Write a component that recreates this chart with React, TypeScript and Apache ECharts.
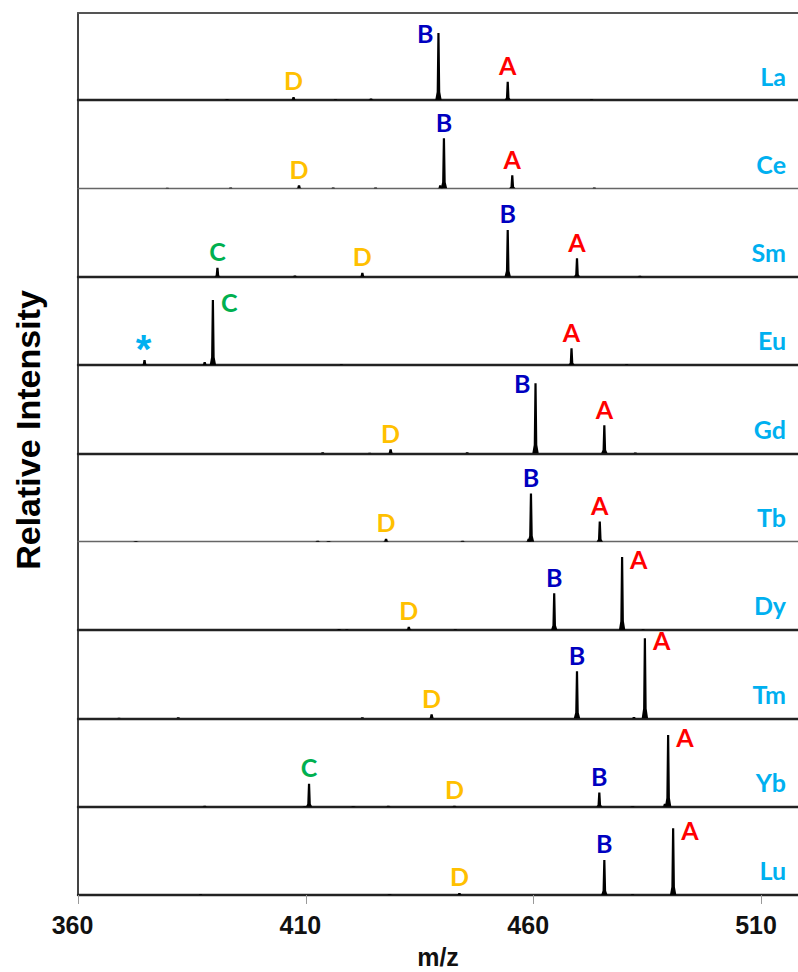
import React, { useEffect, useRef } from "react";
import * as echarts from "echarts";

// ---- data -------------------------------------------------------------
// Each peak: [m/z, relative intensity (% of panel height), label]
type Peak = [number, number, string];

const ELEMENTS = ["La", "Ce", "Sm", "Eu", "Gd", "Tb", "Dy", "Tm", "Yb", "Lu"];

const La: Peak[] = [[392.7, 1.2, ""], [407.3, 3.4, "D"], [416.5, 0.8, ""], [424.3, 1.6, ""], [439.1, 75.9, "B"], [454.3, 20.7, "A"], [472.7, 0.9, ""]];
const Ce: Peak[] = [[379.6, 0.6, ""], [393.5, 0.9, ""], [408.5, 3.4, "D"], [416.0, 0.9, ""], [425.3, 0.9, ""], [439.5, 3.5, ""], [440.3, 56.6, "B"], [455.3, 14.7, "A"], [473.3, 0.8, ""]];
const Sm: Peak[] = [[390.6, 10.2, "C"], [407.6, 1.3, ""], [422.4, 4.5, "D"], [454.3, 52.9, "B"], [469.5, 20.8, "A"], [483.3, 0.9, ""]];
const Eu: Peak[] = [[374.6, 5.7, "*"], [387.8, 3.4, ""], [389.6, 73.6, "C"], [417.8, 0.8, ""], [468.3, 18.9, "A"], [480.4, 0.8, ""]];
const Gd: Peak[] = [[413.7, 1.3, ""], [424.0, 0.7, ""], [428.6, 4.5, "D"], [445.4, 1.1, ""], [460.4, 79.3, "B"], [475.5, 31.7, "A"], [482.3, 0.9, ""]];
const Tb: Peak[] = [[372.7, 0.7, ""], [412.6, 1.1, ""], [415.0, 0.6, ""], [427.6, 3.4, "D"], [444.4, 0.9, ""], [458.9, 3.4, ""], [459.4, 54.4, "B"], [474.5, 22.7, "A"]];
const Dy: Peak[] = [[417.3, 1.1, ""], [419.0, 0.7, ""], [432.6, 3.7, "D"], [442.8, 0.9, ""], [464.5, 41.6, "B"], [479.4, 82.7, "A"], [484.0, 0.7, ""]];
const Tm: Peak[] = [[369.0, 0.6, ""], [382.0, 1.1, ""], [422.4, 1.1, ""], [437.6, 4.5, "D"], [469.5, 53.2, "B"], [482.0, 1.4, ""], [484.4, 90.6, "A"]];
const Yb: Peak[] = [[387.8, 0.9, ""], [409.8, 0.7, ""], [410.7, 26.0, "C"], [420.4, 0.7, ""], [428.1, 0.9, ""], [442.6, 1.1, "D"], [474.4, 15.9, "B"], [481.7, 0.7, ""], [488.8, 3.4, ""], [489.5, 81.2, "A"]];
const Lu: Peak[] = [[386.9, 0.7, ""], [428.4, 0.9, ""], [443.7, 2.3, "D"], [475.5, 39.6, "B"], [481.7, 0.7, ""], [490.6, 75.5, "A"]];

const SPECTRA: Peak[][] = [La, Ce, Sm, Eu, Gd, Tb, Dy, Tm, Yb, Lu];

const X_TICKS = [360, 410, 460, 510];
const X_MIN = 360;
const X_MAX = 518;

// ---- styles -----------------------------------------------------------
const LABEL_COLORS: Record<string, string> = {
  A: "#ff0000",
  B: "#0000c0",
  C: "#00b050",
  D: "#ffc000",
  "*": "#00b0f0",
};
const ELEMENT_COLOR = "#00b0f0";
const SIDE_LABELS: Record<string, "left" | "right"> = {
  "La-B": "left",
  "Gd-B": "left",
  "Eu-C": "right",
  "Dy-A": "right",
  "Tm-A": "right",
  "Yb-A": "right",
  "Lu-A": "right",
};
const THIN_BASELINE = new Set(["Ce", "Tb"]);

const LEFT = 78;
const PLOT_W = 720;
const FRAME_TOP = 13;
const FIRST_BASE = 100;
const PANEL_H = 88.33;
const LETTER_FONT = 'bold 25px Lato, "Noto Sans", sans-serif';

export default function App() {
  const ref = useRef<HTMLDivElement>(null);

  useEffect(() => {
    if (!ref.current) return;
    const chart = echarts.init(ref.current, undefined, { renderer: "svg" });

    const grids: any[] = [];
    const xAxes: any[] = [];
    const yAxes: any[] = [];
    const series: any[] = [];
    const graphics: any[] = [];

    ELEMENTS.forEach((el, i) => {
      const base = FIRST_BASE + i * PANEL_H;
      const top = i === 0 ? FRAME_TOP : base - PANEL_H;
      const h = base - top;
      const isLast = i === ELEMENTS.length - 1;
      grids.push({ left: LEFT, top, width: PLOT_W, height: h });
      const thin = THIN_BASELINE.has(el);
      xAxes.push({
        type: "value",
        gridIndex: i,
        min: X_MIN,
        max: X_MAX,
        position: "bottom",
        axisLine: {
          show: true,
          onZero: false,
          lineStyle: { color: thin ? "#666" : "#222", width: thin ? 1.4 : 2.4 },
        },
        axisTick: isLast
          ? { show: true, customValues: X_TICKS, length: 9, lineStyle: { color: "#999", width: 1 } }
          : { show: false },
        axisLabel: isLast
          ? {
              show: true,
              customValues: X_TICKS,
              margin: 18,
              color: "#111",
              fontSize: 25,
              fontWeight: "bold",
              fontFamily: '"Liberation Sans", Arial, sans-serif',
              padding: [0, 11, 0, 0],
            }
          : { show: false },
        splitLine: { show: false },
        name: isLast ? "m/z" : "",
        nameLocation: "middle",
        nameGap: 50,
        nameTextStyle: {
          color: "#111",
          fontSize: 25,
          fontWeight: "bold",
          fontFamily: '"Liberation Sans", Arial, sans-serif',
        },
      });
      yAxes.push({
        type: "value",
        gridIndex: i,
        min: 0,
        max: (100 * h) / PANEL_H,
        axisLine: { show: true, onZero: false, lineStyle: { color: "#444", width: 2 } },
        axisTick: { show: false },
        axisLabel: { show: false },
        splitLine: { show: false },
      });

      const peaks = SPECTRA[i];
      series.push({
        type: "custom",
        xAxisIndex: i,
        yAxisIndex: i,
        clip: false,
        data: peaks.map((p) => [p[0], p[1]]),
        renderItem: (params: any, api: any) => {
          const peak = peaks[params.dataIndex];
          const b = api.coord([api.value(0), 0]);
          const t = api.coord([api.value(0), api.value(1)]);
          const x = b[0];
          const y0 = b[1];
          const y1 = t[1];
          const hh = y0 - y1;
          const children: any[] = [
            {
              type: "polygon",
              shape: {
                points: [
                  [x - 3.2, y0],
                  [x - 1.8, y0 - 0.12 * hh],
                  [x - 1.1, y1],
                  [x + 1.1, y1],
                  [x + 1.8, y0 - 0.12 * hh],
                  [x + 3.2, y0],
                ],
              },
              style: { fill: "#000" },
            },
          ];
          const lab = peak[2];
          if (lab) {
            const side = SIDE_LABELS[`${el}-${lab}`];
            const isStar = lab === "*";
            let style: any;
            if (isStar) {
              style = {
                x: x - 1,
                y: y1 - 11,
                align: "center",
                verticalAlign: "middle",
                font: 'bold 40px "Liberation Sans", Arial, sans-serif',
              };
            } else if (side === "left") {
              style = { x: x - 5, y: y1, align: "right", verticalAlign: "middle", font: LETTER_FONT };
            } else if (side === "right") {
              style = { x: x + 8, y: y1 + 2, align: "left", verticalAlign: "middle", font: LETTER_FONT };
            } else {
              style = { x, y: y1 - 4, align: "center", verticalAlign: "bottom", font: LETTER_FONT };
            }
            children.push({
              type: "text",
              style: { ...style, text: lab, fill: LABEL_COLORS[lab] },
            });
          }
          return { type: "group", children };
        },
      });

      graphics.push({
        type: "text",
        x: LEFT + PLOT_W - 12,
        y: base - 12,
        style: {
          text: el,
          font: 'bold 25px Lato, "Noto Sans", sans-serif',
          fill: ELEMENT_COLOR,
          textAlign: "right",
          textVerticalAlign: "bottom",
        },
      });
    });

    // top frame line
    xAxes.push({
      type: "value",
      gridIndex: 0,
      min: X_MIN,
      max: X_MAX,
      position: "top",
      axisLine: { show: true, onZero: false, lineStyle: { color: "#555", width: 2 } },
      axisTick: { show: false },
      axisLabel: { show: false },
      splitLine: { show: false },
    });

    graphics.push({
      type: "text",
      x: 28,
      y: 430,
      rotation: Math.PI / 2,
      style: {
        text: "Relative Intensity",
        font: 'bold 34px "Liberation Sans", Arial, sans-serif',
        fill: "#000",
        textAlign: "center",
        textVerticalAlign: "middle",
      },
    });

    chart.setOption({
      animation: false,
      backgroundColor: "#fff",
      grid: grids,
      xAxis: xAxes,
      yAxis: yAxes,
      series,
      graphic: graphics,
    });

    return () => chart.dispose();
  }, []);

  return (
    <div
      ref={ref}
      style={{ position: "absolute", left: 0, top: 0, width: 798, height: 972 }}
    />
  );
}
